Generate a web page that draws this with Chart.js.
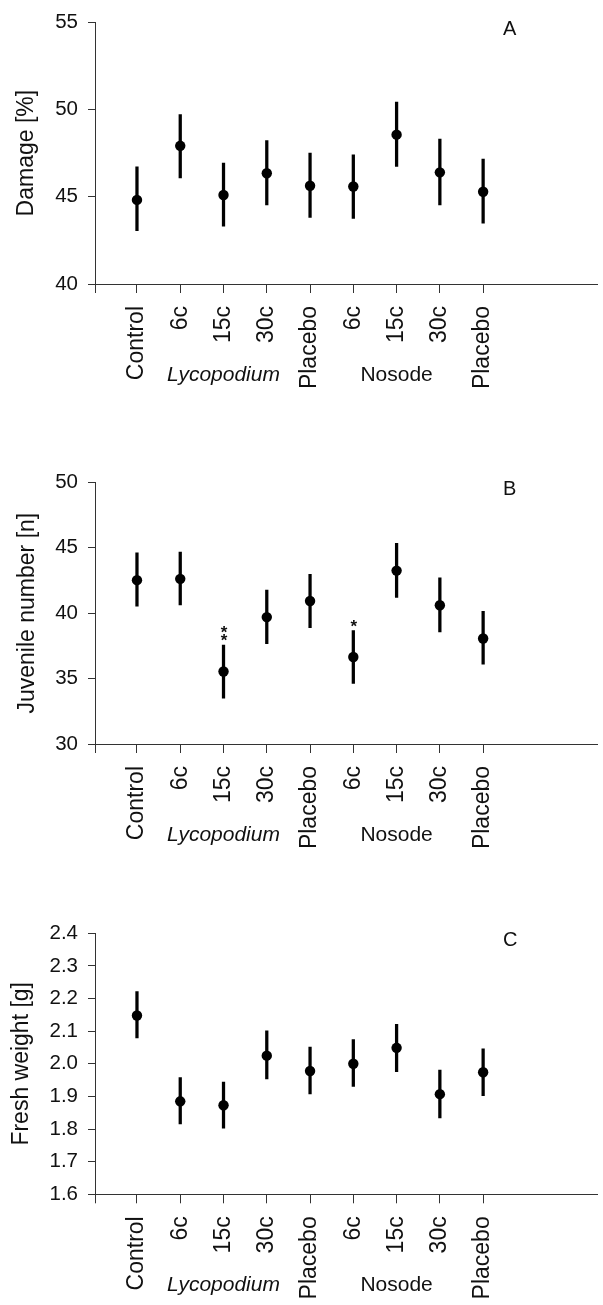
<!DOCTYPE html>
<html>
<head>
<meta charset="utf-8">
<script src="https://cdn.jsdelivr.net/npm/chart.js@4.4.1/dist/chart.umd.min.js"></script>
<style>
  body { margin: 0; background: #fff; width: 603px; height: 1305px; overflow: hidden; }
  .panel { position: absolute; left: 0; width: 603px; }
</style>
</head>
<body>
<div class="panel" style="top:0;height:460px"><canvas id="chartA"></canvas></div>
<div class="panel" style="top:460px;height:451px"><canvas id="chartB"></canvas></div>
<div class="panel" style="top:911px;height:394px"><canvas id="chartC"></canvas></div>
<script>
const categories = ['Control', '6c', '15c', '30c', 'Placebo', '6c', '15c', '30c', 'Placebo'];
const groupNames = ['Lycopodium', 'Nosode'];
const groupCentre = [2, 6];

const damageMean = [44.82, 47.92, 45.10, 46.35, 45.63, 45.59, 48.56, 46.40, 45.29];
const damageLow  = [43.06, 46.08, 43.31, 44.53, 43.82, 43.76, 46.74, 44.53, 43.48];
const damageHigh = [46.71, 49.71, 46.93, 48.22, 47.50, 47.41, 50.43, 48.31, 47.16];

const juvMean = [42.52, 42.62, 35.54, 39.70, 40.93, 36.65, 43.25, 40.60, 38.06];
const juvLow  = [40.53, 40.63, 33.50, 37.66, 38.89, 34.63, 41.21, 38.56, 36.10];
const juvHigh = [44.61, 44.66, 37.56, 41.76, 42.97, 38.66, 45.34, 42.70, 40.13];
const juvStars = ['', '', '**', '', '', '*', '', '', ''];

const weightMean = [2.148, 1.885, 1.873, 2.025, 1.978, 2.000, 2.049, 1.907, 1.974];
const weightLow  = [2.079, 1.816, 1.803, 1.954, 1.908, 1.931, 1.976, 1.834, 1.902];
const weightHigh = [2.221, 1.958, 1.944, 2.101, 2.051, 2.074, 2.121, 1.981, 2.046];

const damageTicks = [40, 45, 50, 55];
const juvTicks = [30, 35, 40, 45, 50];
const weightTicks = [1.6, 1.7, 1.8, 1.9, 2.0, 2.1, 2.2, 2.3, 2.4];

const FONT = "'Liberation Sans', Arial, Helvetica, sans-serif";
const INK = '#111';
const X_MIN = -0.97;
const X_MAX = 10.65;

// group names, panel letter and significance stars
const panelText = {
  id: 'panelText',
  afterDraw(chart, args, opts) {
    const { ctx, chartArea, scales } = chart;
    ctx.save();
    ctx.fillStyle = INK;
    ctx.textAlign = 'center';
    ctx.textBaseline = 'alphabetic';
    groupNames.forEach((g, i) => {
      ctx.font = (i === 0 ? 'italic ' : '') + '21px ' + FONT;
      ctx.fillText(g, scales.x.getPixelForValue(groupCentre[i]), chartArea.bottom + 97);
    });
    ctx.font = '20px ' + FONT;
    ctx.textAlign = 'left';
    ctx.textBaseline = 'top';
    ctx.fillText(opts.letter, 503, chartArea.top - 3);
    if (opts.stars) {
      ctx.font = 'bold 17px ' + FONT;
      ctx.textAlign = 'center';
      ctx.textBaseline = 'alphabetic';
      opts.stars.forEach((s, i) => {
        const x = scales.x.getPixelForValue(i);
        const top = scales.y.getPixelForValue(opts.high[i]);
        for (let k = 0; k < s.length; k++) {
          ctx.fillText('*', x + 0.5, top + 1 - k * 8);
        }
      });
    }
    ctx.restore();
  }
};

function makePanel(id, o) {
  new Chart(document.getElementById(id), {
    type: 'bar',
    data: {
      datasets: [{
        type: 'scatter',
        data: o.mean.map((v, i) => ({ x: i, y: v })),
        pointRadius: 5.2,
        pointBackgroundColor: '#000',
        pointBorderWidth: 0
      }, {
        type: 'bar',
        data: o.low.map((v, i) => ({ x: i, y: [v, o.high[i]] })),
        backgroundColor: '#000',
        borderWidth: 0,
        barThickness: 2.6,
        grouped: false
      }]
    },
    options: {
      responsive: true,
      maintainAspectRatio: false,
      animation: false,
      layout: { padding: { top: o.top, right: 0, left: 0, bottom: 0 } },
      plugins: {
        legend: { display: false },
        tooltip: { enabled: false },
        panelText: { letter: o.letter, stars: o.stars, high: o.high }
      },
      scales: {
        x: {
          type: 'linear',
          offset: false,
          min: X_MIN,
          max: X_MAX,
          afterBuildTicks: s => { s.ticks = [X_MIN].concat(categories.map((c, i) => i)).map(v => ({ value: v })); },
          afterFit: s => { s.height = o.xHeight; },
          ticks: {
            autoSkip: false,
            minRotation: 90,
            maxRotation: 90,
            padding: 13,
            color: INK,
            font: { family: FONT, size: 23 },
            callback: (v, i) => (i === 0 ? '' : categories[i - 1])
          },
          grid: { offset: false, drawOnChartArea: false, drawTicks: true, tickLength: 9, color: '#333' },
          border: { display: true, color: '#333', width: 1 }
        },
        y: {
          min: o.ticks[0],
          max: o.ticks[o.ticks.length - 1],
          afterBuildTicks: s => { s.ticks = o.ticks.map(v => ({ value: v })); },
          afterFit: s => { s.width = 95; },
          ticks: {
            padding: 10,
            color: INK,
            font: { family: FONT, size: 20.5 },
            callback: v => (o.decimals ? v.toFixed(o.decimals) : v)
          },
          grid: { drawOnChartArea: false, drawTicks: true, tickLength: 7, color: '#333' },
          border: { display: true, color: '#333', width: 1 },
          title: {
            display: true,
            text: o.title,
            color: INK,
            font: { family: FONT, size: 23 },
            padding: { top: o.titlePad, bottom: 0 }
          }
        }
      }
    },
    plugins: [panelText]
  });
}

makePanel('chartA', {
  mean: damageMean, low: damageLow, high: damageHigh, ticks: damageTicks,
  title: 'Damage [%]', letter: 'A', top: 19.5, xHeight: 176, titlePad: 13
});
makePanel('chartB', {
  mean: juvMean, low: juvLow, high: juvHigh, ticks: juvTicks, stars: juvStars,
  title: 'Juvenile number [n]', letter: 'B', top: 19.3, xHeight: 167, titlePad: 14
});
makePanel('chartC', {
  mean: weightMean, low: weightLow, high: weightHigh, ticks: weightTicks, decimals: 1,
  title: 'Fresh weight [g]', letter: 'C', top: 19, xHeight: 110.7, titlePad: 8
});
</script>
</body>
</html>
